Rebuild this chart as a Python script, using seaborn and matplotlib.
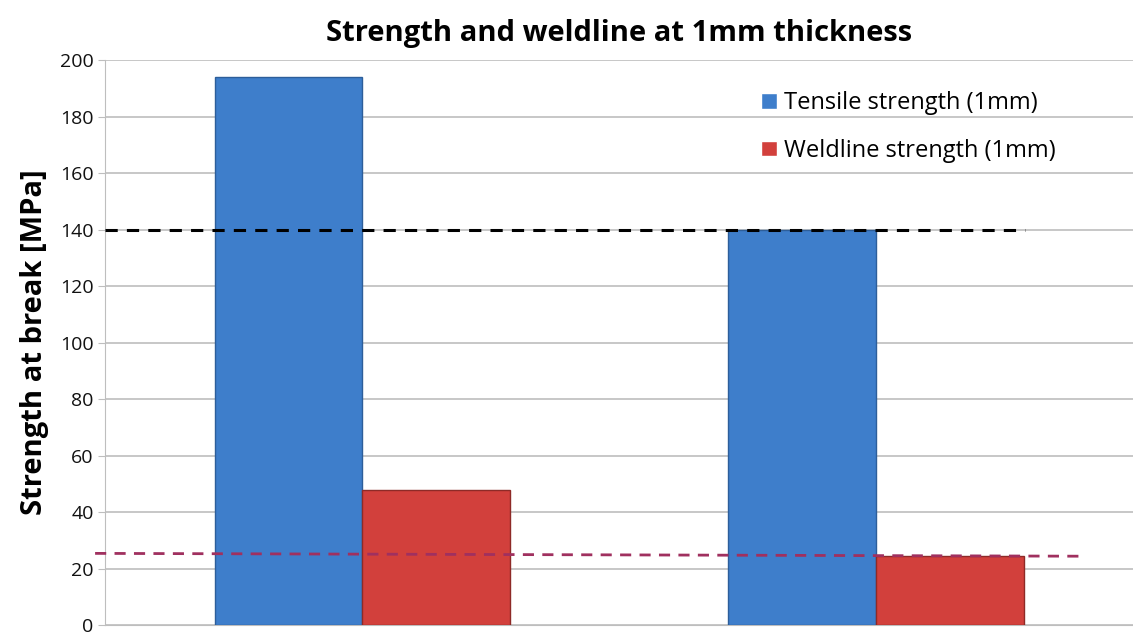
import pandas as pd
import seaborn as sns
import matplotlib.pyplot as plt

# data
groups = ['A', 'B']
tensile = [194, 140]
weldline = [48, 24.3]
series_names = ['Tensile strength (1mm)', 'Weldline strength (1mm)']
ref_black_x = [-0.5, 1.29]
ref_black_y = [140, 140]
ref_purple_x = [-0.52, 1.4]
ref_purple_y = [25.4, 24.4]

df = pd.DataFrame({
    'group': groups * 2,
    'value': tensile + weldline,
    'series': [series_names[0]] * 2 + [series_names[1]] * 2,
})

sns.set_style('white')
plt.rcParams['font.family'] = ['Open Sans', 'DejaVu Sans']
plt.rcParams['text.color'] = 'black'
plt.rcParams['axes.labelcolor'] = 'black'
plt.rcParams['ytick.labelcolor'] = '#111111'

fig, ax = plt.subplots(figsize=(11.33, 6.34), dpi=100)
fig.subplots_adjust(left=0.093, right=1.0, top=0.905, bottom=0.014)

pal = {series_names[0]: '#3E7ECB', series_names[1]: '#D2403C'}
sns.barplot(data=df, x='group', y='value', hue='series', palette=pal,
            width=0.575, saturation=1, ax=ax, zorder=3)
edges = ['#2D5E9A', '#2D5E9A', '#8E2A27', '#8E2A27']
for p, ec in zip(ax.patches, edges):
    p.set_edgecolor(ec)
    p.set_linewidth(1)

sns.lineplot(x=ref_black_x, y=ref_black_y, color='black', lw=2.2,
             dashes=False, ax=ax, zorder=4).lines[-1].set_linestyle((0, (4, 3)))
ax.plot(ref_purple_x, ref_purple_y, color='#A0305F', lw=2, ls=(0, (4, 3)),
        zorder=4, clip_on=False)

ax.set_xlim(-0.5, 1.5)
ax.set_ylim(0, 200)
ax.set_yticks(range(0, 201, 20))
ax.yaxis.grid(True, color='#BEBEBE', lw=1.2)
ax.set_axisbelow(True)
ax.set_xticks([])
ax.set_xlabel('')
ax.set_ylabel('Strength at break [MPa]', fontsize=21, fontweight='bold', labelpad=8)
ax.tick_params(axis='y', labelsize=14, length=5, color='#BEBEBE', left=True)
for s in ['top', 'right']:
    ax.spines[s].set_visible(False)
ax.spines['left'].set_color('#BEBEBE')
ax.spines['bottom'].set_color('#BEBEBE')
ax.set_title('Strength and weldline at 1mm thickness', fontsize=21,
             fontweight='bold', pad=14)

ax.legend(loc='upper right', bbox_to_anchor=(0.945, 0.983), frameon=False,
          fontsize=17, handlelength=0.65, handleheight=0.65, handletextpad=0.3,
          labelspacing=1.0)

fig.savefig('out.png', dpi=100)
